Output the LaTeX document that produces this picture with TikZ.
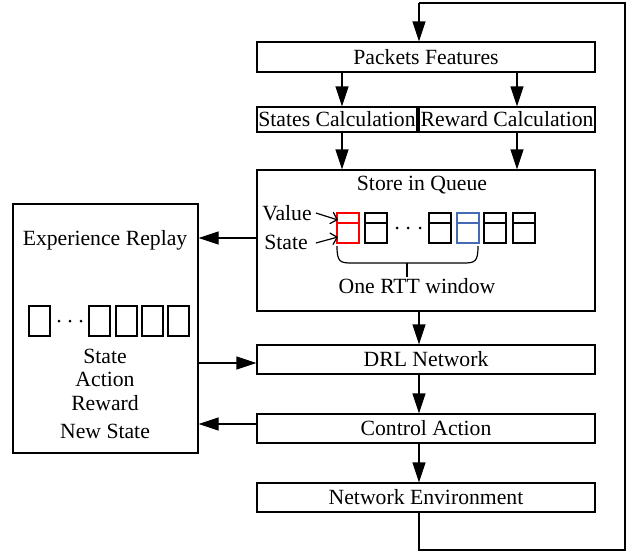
\documentclass[tikz,border=0pt]{standalone}
\usepackage{fontspec}
\setmainfont{Liberation Serif}
\usetikzlibrary{arrows.meta}
\definecolor{qblue}{RGB}{70,105,180}
\begin{document}
\begin{tikzpicture}[x=1pt,y=-1pt,
  every node/.style={font=\fontsize{21.7pt}{26pt}\selectfont, inner sep=0pt},
  box/.style={draw, line width=1.2pt},
  plain/.style={line width=1.2pt, line join=miter},
  arr/.style={plain, -{Triangle[length=20pt,width=13pt]}},
  sarr/.style={line width=1.2pt, -{Straight Barb[length=6pt,width=12pt]}},
  cellline/.style={line width=1.1pt}]
\useasboundingbox (0,0) rectangle (628,554);

% main chain of blocks
\node[box, minimum width=338pt, minimum height=30pt] (pf) at (426,57) {Packets Features};
\node[box, minimum width=160pt, minimum height=25pt] (sc) at (337,119.5) {States Calculation};
\node[box, minimum width=176pt, minimum height=25pt] (rc) at (507,119.5) {Reward Calculation};
\node[box, minimum width=338pt, minimum height=141pt] (store) at (426,240.5) {};
\node (storet) at (422,185) {Store in Queue};
\node[box, minimum width=338pt, minimum height=29pt] (drl) at (426,359.5) {DRL Network};
\node[box, minimum width=338pt, minimum height=29pt] (ca) at (426,428.5) {Control Action};
\node[box, minimum width=338pt, minimum height=29pt] (ne) at (426,497.5) {Network Environment};

% experience replay block
\node[box, minimum width=185pt, minimum height=249pt] (er) at (105.5,328.5) {};
\node (ert) at (105,240) {Experience Replay};
\node (s1) at (105,356) {State};
\node (s2) at (105,379) {Action};
\node (s3) at (105,403) {Reward};
\node (s4) at (105,431) {New State};

% replay memory cells
\foreach \x in {29,89,116,142,168}
  \draw[cellline] (\x,306) rectangle ++(21,30);
\foreach \x in {59,70,81}
  \fill (\x,321) circle (1.5pt);

% queue cells (value on top, state below)
\foreach \x/\c in {337/red,365/black,429/black,457/qblue,484/black,513/black}{
  \draw[cellline,\c] (\x,213) rectangle ++(22,30);
  \draw[cellline,\c] (\x,223) -- ++(22,0);
}
\foreach \x in {397,408,420}
  \fill (\x,228) circle (1.5pt);

\node (val) at (287,213) {Value};
\node (st) at (286,242) {State};
\coordinate (vtip) at (338,220);
\coordinate (stip) at (338,237);
\draw[sarr] ([xshift=4pt]val.east) -- (vtip);
\draw[sarr] ([xshift=8pt,yshift=-1pt]st.east) -- (stip);

% brace under the RTT window
\draw[plain] (337,246) .. controls (337,262) and (340,263) .. (352,263)
  -- (463,263) .. controls (475,263) and (478,262) .. (478,246);
\coordinate (bmid) at (407,263);
\node (rtt) at (417,286) {One RTT window};
\draw[plain] (bmid) -- ++(0,14);

% vertical flow
\coordinate (lt) at (419,3);
\coordinate (rt) at (625,3);
\coordinate (rb) at (625,550);
\coordinate (lb) at (419,550);
\draw[arr] ([xshift=-84pt]pf.south) -- ([xshift=-84pt]pf.south |- sc.north);
\draw[arr] ([xshift=91pt]pf.south) -- ([xshift=91pt]pf.south |- rc.north);
\draw[arr] ([xshift=5pt]sc.south) -- ([xshift=5pt]sc.south |- store.north);
\draw[arr] ([xshift=10pt]rc.south) -- ([xshift=10pt]rc.south |- store.north);
\draw[arr] (store.south -| lt) -- (drl.north -| lt);
\draw[arr] (drl.south -| lt) -- (ca.north -| lt);
\draw[arr] (ca.south -| lt) -- (ne.north -| lt);

% feedback from the environment back to the packet features
\draw[plain] (ne.south -| lt) -- (lb) -- (rb) -- (rt) -- (lt);
\draw[arr] (lt) -- (pf.north -| lt);

% links with the replay memory
\coordinate (y1) at (0,238);
\coordinate (y2) at (0,363);
\coordinate (y3) at (0,424);
\draw[arr] (store.west |- y1) -- (er.east |- y1);
\draw[arr] (er.east |- y2) -- (drl.west |- y2);
\draw[arr] (ca.west |- y3) -- (er.east |- y3);
\end{tikzpicture}
\end{document}
